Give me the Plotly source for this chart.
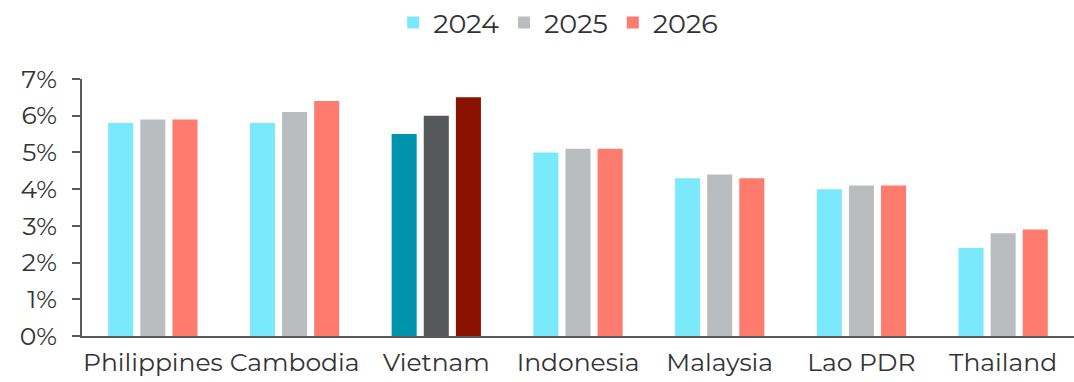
import plotly.graph_objects as go

countries = ["Philippines", "Cambodia", "Vietnam", "Indonesia", "Malaysia", "Lao PDR", "Thailand"]
years = ["2024", "2025", "2026"]
growth_2024 = [5.8, 5.8, 5.5, 5.0, 4.3, 4.0, 2.4]
growth_2025 = [5.9, 6.1, 6.0, 5.1, 4.4, 4.1, 2.8]
growth_2026 = [5.9, 6.4, 6.5, 5.1, 4.3, 4.1, 2.9]

base_colors = ["#7BE9FC", "#BABDBF", "#FF7B6E"]
focus_colors = ["#0093AE", "#545859", "#8B1100"]
focus_country = "Vietnam"

font_family = "Montserrat, 'Noto Sans', Lato, sans-serif"
text_color = "#333333"
axis_color = "#595959"

fig = go.Figure()
for year, values, base, focus in zip(years, [growth_2024, growth_2025, growth_2026], base_colors, focus_colors):
    fig.add_trace(go.Bar(
        name=year,
        x=countries,
        y=values,
        marker=dict(color=[focus if c == focus_country else base for c in countries], line=dict(width=0)),
    ))

fig.update_layout(
    width=1074,
    height=382,
    margin=dict(l=82, r=0, t=79, b=46, autoexpand=False),
    paper_bgcolor="white",
    plot_bgcolor="white",
    barmode="group",
    bargap=0.32,
    bargroupgap=0.22,
    font=dict(family=font_family, color=text_color, size=25),
    showlegend=True,
    legend=dict(
        orientation="h",
        x=0.48, xanchor="center",
        y=1.218, yanchor="middle",
        font=dict(size=27, color=text_color),
        itemwidth=30,
        traceorder="normal",
    ),
)

fig.update_xaxes(
    showline=True, linecolor=axis_color, linewidth=2,
    ticks="", showgrid=False,
    tickangle=0,
    ticklabelstandoff=3,
    tickfont=dict(size=25, color=text_color),
)
fig.update_yaxes(
    range=[0, 7], dtick=1, ticksuffix="%",
    showline=True, linecolor=axis_color, linewidth=2,
    ticks="outside", ticklen=8, tickcolor=axis_color, tickwidth=2,
    showgrid=False, zeroline=False,
    ticklabelstandoff=10,
    tickfont=dict(size=25, color=text_color),
)

fig.write_html("out.html")
